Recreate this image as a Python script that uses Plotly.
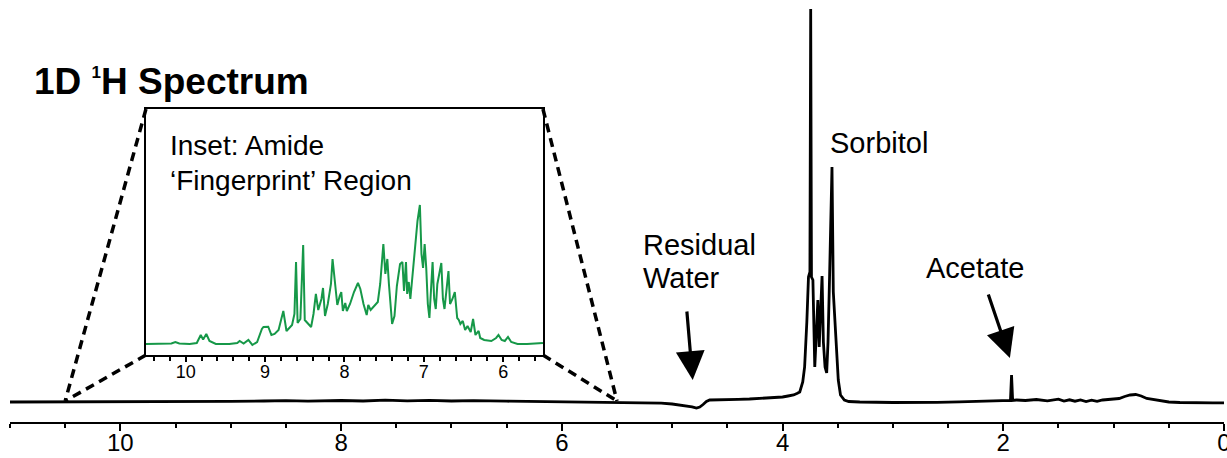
import plotly.graph_objects as go

# ---------------- data ----------------
main_ppm = [11.0, 10.5, 10.0, 9.5, 9.0, 8.7, 8.5, 8.3, 8.0, 7.8, 7.6, 7.4, 7.2, 7.0, 6.8,
            6.5, 6.2, 6.0, 5.7, 5.5, 5.3, 5.1, 5.0, 4.9, 4.82, 4.78, 4.75, 4.72, 4.69,
            4.66, 4.6, 4.5, 4.4, 4.3, 4.2, 4.1, 4.0, 3.95, 3.9, 3.87, 3.844, 3.817,
            3.80, 3.78, 3.765, 3.752, 3.745, 3.738, 3.725, 3.708, 3.695, 3.680, 3.668,
            3.655, 3.642, 3.630, 3.615, 3.600, 3.588, 3.575, 3.565, 3.552, 3.540,
            3.525, 3.51, 3.495, 3.475, 3.44, 3.40, 3.3, 3.0, 2.8, 2.6, 2.4, 2.2, 2.05,
            1.98, 1.935, 1.925, 1.915, 1.88, 1.8, 1.7, 1.6, 1.5, 1.45, 1.4, 1.35, 1.3,
            1.25, 1.2, 1.15, 1.1, 1.05, 1.0, 0.95, 0.9, 0.85, 0.8, 0.75, 0.7, 0.6, 0.5,
            0.4, 0.3, 0.2, 0.1, 0.0]
main_int = [0, 0, 0.2, 0.3, 0.6, 1.0, 1.4, 0.9, 1.5, 1.0, 1.8, 1.2, 1.6, 1.0, 1.3,
            0.8, 0.5, 0.3, 0.0, -0.2, -0.6, -1.2, -2.0, -3.2, -4.8, -6.0, -5.0, -2.5, 0.5,
            2.0, 2.0, 2.2, 2.6, 3.0, 3.5, 4.0, 5.0, 6.0, 7.0, 8.5, 10, 20,
            35, 80, 125, 130, 393, 125, 122, 35, 70, 102, 55,
            85, 126, 60, 35, 29, 60, 120, 175, 235, 110,
            82, 60, 22, 7, 2, 0.5, 0, -0.5, -0.6, -0.3, 0.2, 0.8, 1.5,
            2.0, 1.5, 27, 1.5, 2, 1.5, 2.5, 1.2, 2.8, 1.0, 2.2, 0.8, 2.0,
            0.5, 1.8, 0.6, 2.0, 2.5, 3.0, 3.5, 5.5, 7.0, 7.5, 6.0, 3.5, 1.5, 0.0,
            -0.5, -0.8, -0.8, -0.8, -0.8]

inset_ppm = [10.5, 10.3, 10.18, 10.13, 10.08, 9.95, 9.86, 9.81, 9.78, 9.74, 9.70, 9.62,
             9.45, 9.35, 9.32, 9.27, 9.21, 9.16, 9.10, 9.04, 9.02, 8.96, 8.92, 8.88,
             8.83, 8.77, 8.73, 8.66, 8.63, 8.61, 8.59, 8.555, 8.52, 8.50, 8.45, 8.42,
             8.39, 8.36, 8.33, 8.29, 8.27, 8.245, 8.21, 8.17, 8.15, 8.12, 8.09, 8.06,
             8.04, 8.02, 7.99, 7.97, 7.93, 7.88, 7.83, 7.80, 7.76, 7.72, 7.70, 7.67,
             7.64, 7.58, 7.55, 7.51, 7.485, 7.46, 7.44, 7.42, 7.40, 7.37, 7.34, 7.30,
             7.27, 7.25, 7.225, 7.21, 7.19, 7.17, 7.14, 7.12, 7.08, 7.05, 7.03, 7.01,
             6.99, 6.97, 6.95, 6.93, 6.91, 6.89, 6.87, 6.85, 6.83, 6.78, 6.76, 6.74,
             6.69, 6.67, 6.64, 6.61, 6.58, 6.56, 6.54, 6.51, 6.48, 6.45, 6.41, 6.38,
             6.35, 6.31, 6.29, 6.24, 6.15, 6.09, 6.06, 6.02, 5.98, 5.94, 5.90, 5.82,
             5.7, 5.5]
inset_int = [0, 0, 0.5, 2, 0.5, 0, 1, 9, 4.5, 10, 3, 0,
             0, 1, 3, 0.5, 4, -1, 2, 15, 17, 17.3, 9, 10,
             14, 33, 13, 19, 30, 82, 21, 25, 99, 24, 20, 17,
             30, 50, 34, 45, 56, 28, 40, 60, 85, 58, 39, 48,
             52, 33, 41, 33, 40, 52, 61, 55, 40, 29, 39, 34,
             37, 42, 60, 100, 70, 85, 60, 34, 20, 28, 58, 80,
             82, 53, 82, 50, 62, 45, 70, 90, 123, 139, 90, 76,
             100, 76, 40, 26, 50, 82, 45, 35, 60, 81, 45, 35,
             73, 40, 45, 52, 26, 24, 20, 23, 14, 18, 12, 25,
             9, 13, 6, 4, 3, 6, 9, 4, 3, 7, 2, 0,
             0, 1]

main_ticks = [10, 8, 6, 4, 2, 0]
inset_ticks = [10, 9, 8, 7, 6]

# ---------------- layout geometry ----------------
W, H = 1227, 458
ML, MR, MT, MB = 10, 3, 0, 36
MAIN_X = [11.0, 0.0]
MAIN_Y = [-20, 402]
INSET_X = [10.5, 5.5]
INSET_Y = [-11, 235]
INSET_DX = [0.1120, 0.4390]
INSET_DY = [0.1588, 0.7417]

FONT = "Liberation Sans, Arial, Helvetica, sans-serif"
GREEN = "rgb(22,152,72)"


def main_to_paper(ppm, val):
    px = (MAIN_X[0] - ppm) / (MAIN_X[0] - MAIN_X[1])
    py = (val - MAIN_Y[0]) / (MAIN_Y[1] - MAIN_Y[0])
    return px, py


fig = go.Figure()
fig.add_trace(go.Scatter(x=main_ppm, y=main_int, mode="lines",
                         line=dict(color="black", width=2.8),
                         xaxis="x", yaxis="y", hoverinfo="skip", showlegend=False))
fig.add_trace(go.Scatter(x=inset_ppm, y=inset_int, mode="lines",
                         line=dict(color=GREEN, width=2),
                         xaxis="x2", yaxis="y2", hoverinfo="skip", showlegend=False))

# dashed zoom lines from inset corners to baseline at the inset limits
left_base = main_to_paper(INSET_X[0], 1)
right_base = main_to_paper(INSET_X[1], 1)
corners = [
    ((INSET_DX[0], INSET_DY[1]), left_base),
    ((INSET_DX[0], INSET_DY[0]), left_base),
    ((INSET_DX[1], INSET_DY[1]), right_base),
    ((INSET_DX[1], INSET_DY[0]), right_base),
]
shapes = []
for (c, b) in corners:
    shapes.append(dict(type="line", xref="paper", yref="paper",
                       x0=c[0], y0=c[1], x1=b[0], y1=b[1],
                       line=dict(color="black", width=3.5, dash="9px,6px")))

LBL = 29
annotations = [
    dict(text="<b>1D <sup><span style='font-size:17px'>1</span></sup>H Spectrum</b>",
         x=10.8, y=321, xref="x", yref="y",
         xanchor="left", yanchor="middle", showarrow=False,
         font=dict(family=FONT, size=37, color="black")),
    dict(text="Sorbitol", x=3.128, y=259, xref="x", yref="y",
         xanchor="center", yanchor="middle", showarrow=False,
         font=dict(family=FONT, size=LBL, color="black")),
    dict(text="Residual", x=5.286, y=157, xref="x", yref="y",
         xanchor="left", yanchor="middle", showarrow=False,
         font=dict(family=FONT, size=LBL, color="black")),
    dict(text="Water", x=5.286, y=124, xref="x", yref="y",
         xanchor="left", yanchor="middle", showarrow=False,
         font=dict(family=FONT, size=LBL, color="black")),
    dict(text="Acetate", x=2.257, y=134, xref="x", yref="y",
         xanchor="center", yanchor="middle", showarrow=False,
         font=dict(family=FONT, size=LBL, color="black")),
    dict(text="", x=4.814, y=22, ax=4.868, ay=92, xref="x", yref="y",
         axref="x", ayref="y", showarrow=True, arrowhead=2, arrowsize=1.8,
         arrowwidth=3.2, arrowcolor="black"),
    dict(text="", x=1.94, y=44, ax=2.14, ay=109, xref="x", yref="y",
         axref="x", ayref="y", showarrow=True, arrowhead=2, arrowsize=1.8,
         arrowwidth=3.2, arrowcolor="black"),
    dict(text="Inset: Amide", x=10.223, y=199, xref="x2", yref="y2",
         xanchor="left", yanchor="middle", showarrow=False,
         font=dict(family=FONT, size=28, color="black")),
    dict(text="\u2018Fingerprint\u2019 Region", x=10.223, y=164, xref="x2", yref="y2",
         xanchor="left", yanchor="middle", showarrow=False,
         font=dict(family=FONT, size=28, color="black")),
]

fig.update_layout(
    template="none",
    width=W, height=H,
    margin=dict(l=ML, r=MR, t=MT, b=MB, pad=0),
    paper_bgcolor="white", plot_bgcolor="rgba(0,0,0,0)",
    showlegend=False,
    xaxis=dict(range=MAIN_X, domain=[0, 1], showgrid=False, zeroline=False,
               automargin=False, ticklabeloverflow="allow",
               ticklabelstandoff=-9,
               showline=True, linecolor="black", linewidth=2,
               ticks="outside", ticklen=7, tickwidth=2, tickcolor="black",
               tickmode="array", tickvals=main_ticks,
               ticktext=[str(t) for t in main_ticks],
               minor=dict(dtick=0.5, tick0=0, ticks="outside", ticklen=4,
                          tickwidth=2, tickcolor="black", showgrid=False),
               tickfont=dict(family=FONT, size=24, color="black")),
    yaxis=dict(range=MAIN_Y, domain=[0, 1], visible=False, automargin=False),
    xaxis2=dict(range=INSET_X, domain=INSET_DX, anchor="y2", showgrid=False,
                automargin=False, ticklabelstandoff=-6,
                zeroline=False, showline=True, mirror=True, linecolor="black",
                linewidth=2, ticks="outside", ticklen=5, tickwidth=1.5,
                tickcolor="black", tickmode="array", tickvals=inset_ticks,
                ticktext=[str(t) for t in inset_ticks],
                minor=dict(dtick=0.2, tick0=0, ticks="outside", ticklen=4,
                           tickwidth=1.5, tickcolor="black", showgrid=False),
                tickfont=dict(family=FONT, size=18, color="black")),
    yaxis2=dict(range=INSET_Y, domain=INSET_DY, anchor="x2", showgrid=False,
                automargin=False,
                zeroline=False, showline=True, mirror=True, linecolor="black",
                linewidth=2, ticks="", showticklabels=False),
    shapes=shapes,
    annotations=annotations,
)

fig.write_html("out.html")
